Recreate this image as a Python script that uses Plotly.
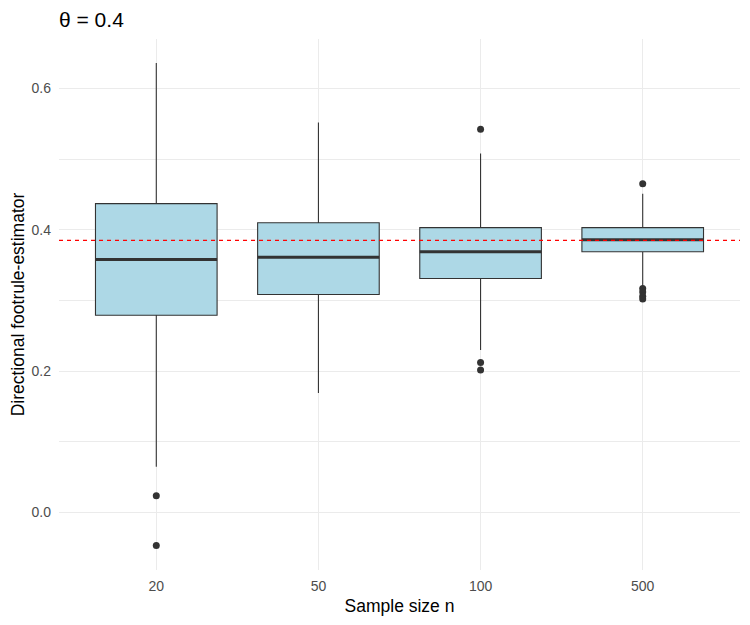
import plotly.graph_objects as go

# ---- data ----
categories = ["20", "50", "100", "500"]
q1 = [0.279, 0.3085, 0.331, 0.369]
median = [0.358, 0.361, 0.369, 0.386]
q3 = [0.437, 0.410, 0.403, 0.403]
lower_whisker = [0.0645, 0.169, 0.2297, 0.319]
upper_whisker = [0.636, 0.552, 0.508, 0.451]
outliers = [
    [0.0235, -0.0467],
    [],
    [0.5424, 0.2123, 0.2014],
    [0.465, 0.317, 0.312, 0.306, 0.302],
]
true_value = 0.385
title_text = "θ = 0.4"
x_title = "Sample size n"
y_title = "Directional footrule-estimator"

FONT = "Liberation Sans, Arial, sans-serif"
BOX_W = 0.75
DARK = "#333333"
OFF = 8  # page body margin of the browser

fig = go.Figure()
positions = list(range(len(categories)))

for i, cat in enumerate(categories):
    fig.add_trace(go.Box(
        x=[positions[i]], q1=[q1[i]], median=[median[i]], q3=[q3[i]],
        lowerfence=[lower_whisker[i]], upperfence=[upper_whisker[i]],
        width=BOX_W, whiskerwidth=0,
        fillcolor="#ADD8E6", line=dict(color=DARK, width=1.1),
        boxpoints=False, showlegend=False, hoverinfo="skip", name=cat,
    ))
    # thicker median line (ggplot fatten)
    fig.add_trace(go.Scatter(
        x=[positions[i] - BOX_W / 2, positions[i] + BOX_W / 2],
        y=[median[i], median[i]], mode="lines",
        line=dict(color=DARK, width=3), showlegend=False, hoverinfo="skip",
    ))
    if outliers[i]:
        fig.add_trace(go.Scatter(
            x=[positions[i]] * len(outliers[i]), y=outliers[i], mode="markers",
            marker=dict(color=DARK, size=7), showlegend=False, hoverinfo="skip",
        ))

fig.add_hline(y=true_value, line=dict(color="red", width=1.2, dash="4px,4px"))

fig.update_layout(
    width=750, height=625,
    margin=dict(l=59 - OFF, r=10 + OFF, t=39 - OFF, b=55 + OFF, autoexpand=False),
    paper_bgcolor="white", plot_bgcolor="white",
    font=dict(family=FONT, color="black"),
    title=dict(text=title_text, x=(59 - OFF) / 750, xanchor="left", xref="container",
               y=1 - (20 - OFF) / 625, yanchor="middle", yref="container",
               font=dict(size=21, color="black", family=FONT)),
)
fig.update_xaxes(
    range=[-0.6, 3.6], tickmode="array", tickvals=positions, ticktext=categories,
    showgrid=True, gridcolor="#EBEBEB", gridwidth=1, zeroline=False, showline=False,
    ticks="", tickfont=dict(size=14, color="#4D4D4D", family=FONT),
    ticklabelstandoff=6, automargin=False,
    title=dict(text=x_title, font=dict(size=17.5, color="black", family=FONT), standoff=6),
)
fig.update_yaxes(
    range=[-0.0815, 0.670], tick0=0, dtick=0.2, tickformat=".1f",
    showgrid=True, gridcolor="#EBEBEB", gridwidth=1, zeroline=False, showline=False,
    ticks="", tickfont=dict(size=14, color="#4D4D4D", family=FONT),
    ticklabelstandoff=7, automargin=False,
    minor=dict(dtick=0.1, tick0=0, showgrid=True, gridcolor="#EBEBEB", gridwidth=0.6),
    title=dict(text=y_title, font=dict(size=17.5, color="black", family=FONT), standoff=10),
)

fig.write_html("out.html")
